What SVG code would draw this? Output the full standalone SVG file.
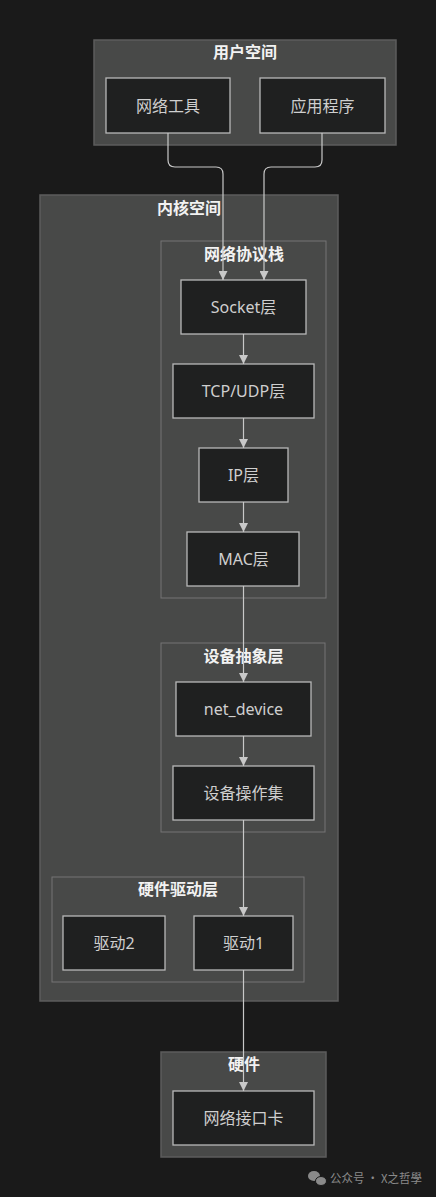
<svg xmlns="http://www.w3.org/2000/svg" width="436" height="1197" viewBox="0 0 436 1197">
<defs>
<style>
.bg{fill:#1a1a1a}
.outer{fill:#484948;stroke:#5c5c5c;stroke-width:1.5}
.cl{fill:#484948;stroke:#747474;stroke-width:1}
.node{fill:#1f2020;stroke:#b8b8b8;stroke-width:1.3}
.title{font-family:"Noto Sans CJK SC","Noto Sans",sans-serif;font-size:16px;font-weight:bold;fill:#f2f2f2;text-anchor:middle}
.lbl{font-family:"Noto Sans","Noto Sans CJK SC",sans-serif;font-size:16px;fill:#cfcfcf;text-anchor:middle;dominant-baseline:central}
.edge{fill:none;stroke:#c8c8c8;stroke-width:1.2}
.wm{font-family:"Noto Sans CJK SC","Noto Sans",sans-serif;font-size:12px;fill:#8a8a8a}
</style>
<marker id="arr" viewBox="0 0 10 10" refX="10" refY="5" markerWidth="9" markerHeight="9" markerUnits="userSpaceOnUse" orient="auto">
<path d="M0,0 L10,5 L0,10 z" fill="#c8c8c8"/>
</marker>
</defs>
<rect class="bg" x="0" y="0" width="436" height="1197"/>

<g id="user-space">
<rect class="outer" x="94" y="40" width="302" height="105"/>
<text class="title" x="245" y="58">用户空间</text>
</g>
<g id="net-tools">
<rect class="node" x="106" y="78" width="124" height="55"/>
<text class="lbl" x="168" y="105.5">网络工具</text>
</g>
<g id="app">
<rect class="node" x="260" y="78" width="125" height="55"/>
<text class="lbl" x="322.5" y="105.5">应用程序</text>
</g>

<g id="kernel-space">
<rect class="outer" x="40" y="195" width="298" height="806"/>
<text class="title" x="189" y="214">内核空间</text>
</g>

<g id="protocol-stack">
<rect class="cl" x="161" y="241" width="165" height="357"/>
<text class="title" x="244" y="260">网络协议栈</text>
</g>
<g id="socket">
<rect class="node" x="181" y="280" width="125" height="54"/>
<text class="lbl" x="243.5" y="307">Socket层</text>
</g>
<g id="tcpudp">
<rect class="node" x="173" y="364" width="141" height="54"/>
<text class="lbl" x="243.5" y="391">TCP/UDP层</text>
</g>
<g id="ip">
<rect class="node" x="199" y="448" width="89" height="54"/>
<text class="lbl" x="243.5" y="475">IP层</text>
</g>
<g id="mac">
<rect class="node" x="187" y="532" width="112" height="54"/>
<text class="lbl" x="243.5" y="559">MAC层</text>
</g>

<g id="device-abstraction">
<rect class="cl" x="161" y="643" width="164" height="189"/>
<text class="title" x="243.5" y="662">设备抽象层</text>
</g>
<g id="net-device">
<rect class="node" x="176" y="682" width="135" height="54"/>
<text class="lbl" x="243.5" y="709">net_device</text>
</g>
<g id="dev-ops">
<rect class="node" x="173" y="766" width="141" height="54"/>
<text class="lbl" x="243.5" y="793">设备操作集</text>
</g>

<g id="hw-driver">
<rect class="cl" x="52" y="877" width="252" height="105"/>
<text class="title" x="178" y="895">硬件驱动层</text>
</g>
<g id="driver2">
<rect class="node" x="63" y="916" width="102" height="54"/>
<text class="lbl" x="114" y="943">驱动2</text>
</g>
<g id="driver1">
<rect class="node" x="194" y="916" width="99" height="54"/>
<text class="lbl" x="243.5" y="943">驱动1</text>
</g>

<g id="hardware">
<rect class="outer" x="161" y="1052" width="165" height="105"/>
<text class="title" x="244" y="1070">硬件</text>
</g>
<g id="nic">
<rect class="node" x="173" y="1091" width="141" height="54"/>
<text class="lbl" x="243.5" y="1118">网络接口卡</text>
</g>

<g id="connectors">
<path class="edge" marker-end="url(#arr)" d="M168,133 V160 Q168,167 175,167 H216 Q223,167 223,174 V280"/>
<path class="edge" marker-end="url(#arr)" d="M322,133 V160 Q322,167 315,167 H271 Q264,167 264,174 V280"/>
<path class="edge" marker-end="url(#arr)" d="M243.5,334 V364"/>
<path class="edge" marker-end="url(#arr)" d="M243.5,418 V448"/>
<path class="edge" marker-end="url(#arr)" d="M243.5,502 V532"/>
<path class="edge" marker-end="url(#arr)" d="M243.5,586 V682"/>
<path class="edge" marker-end="url(#arr)" d="M243.5,736 V766"/>
<path class="edge" marker-end="url(#arr)" d="M243.5,820 V916"/>
<path class="edge" marker-end="url(#arr)" d="M243.5,970 V1091"/>
</g>

<g id="watermark">
<ellipse cx="314" cy="1176" rx="6" ry="5" fill="#8a8a8a"/>
<ellipse cx="321" cy="1181" rx="5.5" ry="4.5" fill="#8a8a8a" stroke="#1a1a1a" stroke-width="1"/>
<text class="wm" x="330" y="1183" textLength="92" lengthAdjust="spacingAndGlyphs">公众号 · X之哲學</text>
</g>
</svg>
